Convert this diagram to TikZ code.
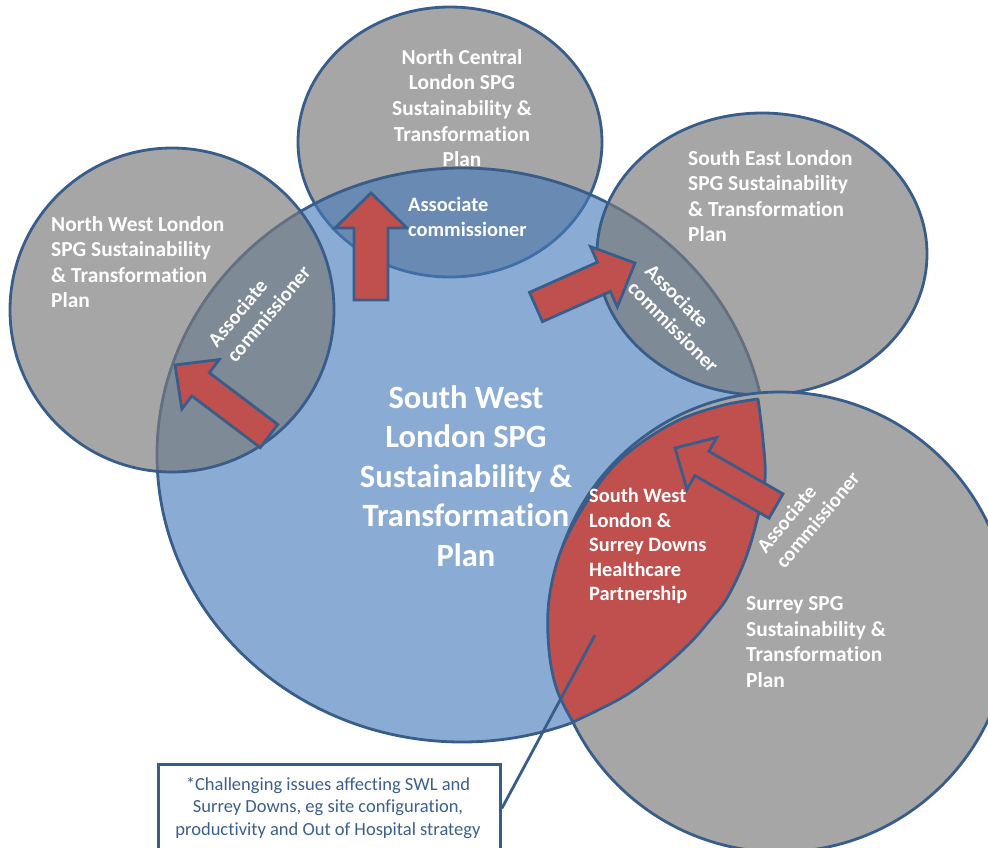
\documentclass[tikz,border=0pt]{standalone}
\usepackage{fontspec}
\setmainfont{Carlito}[Ligatures=NoCommon]
\usetikzlibrary{calc}
\definecolor{bord}{RGB}{56,93,138}
\definecolor{gr}{RGB}{166,166,166}
\definecolor{grt}{RGB}{122,122,122}
\definecolor{bl}{RGB}{70,122,186}
\definecolor{rd}{RGB}{192,80,77}
\definecolor{txtb}{RGB}{60,96,140}
\newcommand\blockarr[6]{% name, tail, tip, shaft half width, head half width, head length
  \coordinate (#1t) at #2;
  \coordinate (#1p) at #3;
  \coordinate (#1q) at ($(#1p)!#6!(#1t)$);
  \draw[arr] ($(#1t)!#4!90:(#1p)$) -- ($(#1q)!#4!90:(#1p)$) -- ($(#1q)!#5!90:(#1p)$)
    -- (#1p) -- ($(#1q)!#5!-90:(#1p)$) -- ($(#1q)!#4!-90:(#1p)$) -- ($(#1t)!#4!-90:(#1p)$) -- cycle;
}
\begin{document}
\begin{tikzpicture}[x=1pt,y=-1pt,
  circ/.style={draw=bord,line width=2.8pt},
  arr/.style={fill=rd,draw=bord,line width=2.8pt,line join=miter},
  wt/.style={text=white,font=\fontsize{21.4}{25.6}\selectfont\bfseries,inner sep=0pt},
  ac/.style={text=white,font=\fontsize{20.4}{24.5}\selectfont\bfseries,inner sep=0pt,align=left},
  conn/.style={draw=bord,line width=2.8pt},
]
\useasboundingbox (0,0) rectangle (988,847);
\clip (0,0) rectangle (988,847);
% circles
\draw[circ,fill=gr] (450,142) ellipse [x radius=152pt,y radius=135pt];
\draw[circ,fill=bl,fill opacity=0.63] (462,455) ellipse [x radius=305pt,y radius=287pt];
\draw[circ,fill=grt,fill opacity=0.667] (172,310) circle [radius=162pt];
\draw[circ,fill=grt,fill opacity=0.667] (762,254) ellipse [x radius=165pt,y radius=141pt];
\draw[circ,fill=gr] (780,622) circle [radius=230pt];
% red lens
\draw[circ,fill=rd,line join=round] plot[smooth,tension=0.6] coordinates {(758,399) (763,440) (765,480) (757,520) (745,560) (727,598) (710,620) (690,643) (660,670) (623,697) (573,722)}
  -- plot[smooth,tension=0.6] coordinates {(573,722) (557,690) (549,650) (549,600) (562,548) (590,497) (623,457) (673,423) (720,406) (758,399)} -- cycle;
% arrows
\blockarr{a1}{(371,300)}{(371,193)}{17pt}{36pt}{35pt}
\blockarr{a2}{(269,436)}{(175,365)}{14.5pt}{31pt}{32pt}
\blockarr{a3}{(536,307)}{(635,263)}{16pt}{33pt}{34pt}
\blockarr{a4}{(776,506)}{(675,448)}{14pt}{30pt}{31pt}
% texts
\node[wt,align=center] (nct) at (462,108) {North Central\\London SPG\\Sustainability \&\\Transformation\\Plan};
\node[wt,align=left,anchor=west] (nwt) at (51,262) {North West London\\SPG Sustainability\\\& Transformation\\Plan};
\node[wt,align=left,anchor=west] (set) at (688,196) {South East London\\SPG Sustainability\\\& Transformation\\Plan};
\node[wt,align=left,anchor=west] (sut) at (746,642) {Surrey SPG\\Sustainability \&\\Transformation\\Plan};
\node[text=white,font=\fontsize{32.5}{39.5}\selectfont\bfseries,align=center,inner sep=0pt] (swt) at (466,476) {South West\\London SPG\\Sustainability \&\\Transformation\\Plan};
\node[ac,anchor=west] (nca) at (408,217) {Associate\\commissioner};
\node[ac,rotate=50] (nwa) at (259,306) {Associate\\commissioner};
\node[ac,rotate=-45] (sea) at (682,318) {Associate\\commissioner};
\node[ac,rotate=50] (sua) at (808,512) {Associate\\commissioner};
\node[text=white,font=\fontsize{20.4}{24.5}\selectfont\bfseries,align=left,anchor=west,inner sep=0pt] (rlt) at (589,546) {South West\\London \&\\Surrey Downs\\Healthcare\\Partnership};
% callout
\coordinate (ptr) at (595,635);
\node[draw=bord,line width=2.8pt,fill=white,minimum width=342pt,minimum height=88pt,anchor=north west,inner sep=0pt] (call) at (157,763) {};
\draw[conn] (call.east) -- (ptr);
\node[text=txtb,font=\fontsize{18.5}{22.5}\selectfont,align=center,inner sep=0pt] (callt) at (328,808) {*Challenging issues affecting SWL and\\Surrey Downs, eg site configuration,\\productivity and Out of Hospital strategy};
\end{tikzpicture}
\end{document}
